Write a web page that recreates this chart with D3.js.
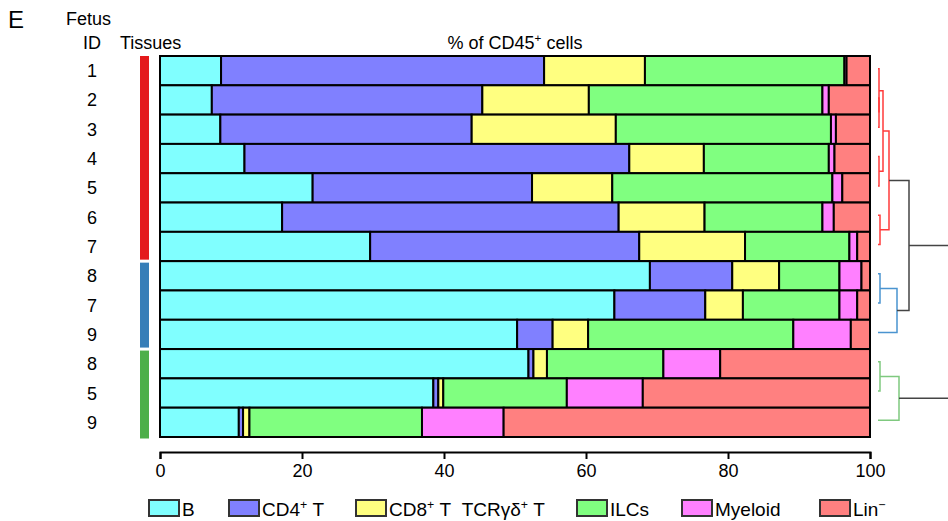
<!DOCTYPE html>
<html>
<head>
<meta charset="utf-8">
<script src="https://cdn.jsdelivr.net/npm/d3@7"></script>
<style>
  body { margin: 0; background: #fff; }
  svg text { font-family: "Liberation Sans", Arial, sans-serif; fill: #000; }
</style>
</head>
<body>
<svg id="chart" width="948" height="521"></svg>
<script>
// fetus ID for each row, top to bottom
var ids = ['1', '2', '3', '4', '5', '6', '7', '8', '7', '9', '8', '5', '9'];
// tissue group for each row (0 = red, 1 = blue, 2 = green)
var tissueGroup = [0, 0, 0, 0, 0, 0, 0, 1, 1, 1, 2, 2, 2];
var tissueColors = ['#e41a1c', '#377eb8', '#4daf4a'];

var categories = ['B', 'CD4+ T', 'CD8+ T  TCRgd+ T', 'ILCs', 'Myeloid', 'Lin-'];
var catColors = ['#80ffff', '#8080ff', '#ffff80', '#80ff80', '#ff80ff', '#ff8080'];

// % of CD45+ cells, one value per row
var bCells    = [8.6, 7.3, 8.5, 11.9, 21.5, 17.2, 29.6, 69.0, 64.0, 50.3, 51.9, 38.5, 11.1];
var cd4T      = [45.5, 38.1, 35.4, 54.2, 30.9, 47.4, 37.9, 11.6, 12.8, 5.0, 0.7, 0.7, 0.6];
var cd8T      = [14.2, 15.0, 20.3, 10.5, 11.3, 12.1, 14.9, 6.6, 5.3, 5.0, 1.9, 0.7, 0.9];
var ilcs      = [28.1, 32.9, 30.3, 17.6, 31.0, 16.6, 14.7, 8.5, 13.6, 28.9, 16.4, 17.4, 24.3];
var myeloid   = [0.3, 0.9, 0.7, 0.8, 1.4, 1.6, 1.1, 3.1, 2.5, 8.1, 8.0, 10.7, 11.5];
var linNeg    = [3.3, 5.8, 4.8, 5.0, 3.9, 5.1, 1.8, 1.2, 1.8, 2.7, 21.1, 32.0, 51.6];

var xTicks = [0, 20, 40, 60, 80, 100];

// dendrogram merges: [childA, childB, height]; leaves are 0..12, new nodes 13..
var merges = [
  [1, 2, 1], [0, 13, 1], [3, 4, 1], [14, 15, 5], [5, 6, 2], [16, 17, 11],
  [7, 8, 2], [19, 9, 19], [18, 20, 31],
  [10, 11, 2], [22, 12, 21], [21, 23, 120]
];
var mergeColors = ['#ff3b3b', '#ff3b3b', '#ff3b3b', '#ff3b3b', '#ff3b3b', '#ff3b3b',
  '#4a94d0', '#4a94d0', '#444',
  '#7fc97f', '#7fc97f', '#444'];

var svg = d3.select('#chart');
var rows = d3.range(ids.length);
var series = [bCells, cd4T, cd8T, ilcs, myeloid, linNeg];

var x = d3.scaleLinear().domain([0, 100]).range([160, 870]);
var y = d3.scaleBand().domain(rows).range([56, 437]).padding(0);

// stacked segments
var segs = [];
rows.forEach(function(r) {
  var acc = 0;
  series.forEach(function(s, k) {
    segs.push({ row: r, k: k, x0: acc, x1: acc + s[r] });
    acc += s[r];
  });
});

svg.append('g').selectAll('rect')
  .data(segs)
  .enter().append('rect')
    .attr('x', function(d) { return x(d.x0); })
    .attr('y', function(d) { return y(d.row); })
    .attr('width', function(d) { return Math.max(0, x(d.x1) - x(d.x0)); })
    .attr('height', y.bandwidth())
    .attr('fill', function(d) { return catColors[d.k]; })
    .attr('stroke', '#000')
    .attr('stroke-width', 2);

// ID labels
svg.append('g').selectAll('text')
  .data(rows)
  .enter().append('text')
    .attr('x', 92)
    .attr('y', function(r) { return y(r) + y.bandwidth() / 2 + 6.5; })
    .attr('text-anchor', 'middle')
    .attr('font-size', 18)
    .text(function(r) { return ids[r]; });

// tissue strips
var groups = d3.groups(rows, function(r) { return tissueGroup[r]; });
svg.append('g').selectAll('rect')
  .data(groups)
  .enter().append('rect')
    .attr('x', 140)
    .attr('width', 9)
    .attr('y', function(g) { return y(d3.min(g[1])) + (g[0] > 0 ? 1.5 : 0); })
    .attr('height', function(g) {
      return y(d3.max(g[1])) + y.bandwidth() - y(d3.min(g[1])) - (g[0] > 0 ? 1.5 : 0) - 1.5 + (g[0] == 2 ? 3 : 0);
    })
    .attr('fill', function(g) { return tissueColors[g[0]]; });

// axis
var axis = svg.append('g')
  .attr('transform', 'translate(0,452)')
  .call(d3.axisBottom(x).tickValues(xTicks).tickSize(7).tickSizeOuter(7).tickPadding(5));
axis.selectAll('path, line').attr('stroke', '#000').attr('stroke-width', 2);
axis.selectAll('text').attr('font-size', 18).attr('font-family', '"Liberation Sans", Arial, sans-serif');

// headers
svg.append('text').attr('x', 8).attr('y', 28).attr('font-size', 24).text('E');
svg.append('text').attr('x', 66).attr('y', 25).attr('font-size', 18).text('Fetus');
svg.append('text').attr('x', 83).attr('y', 49).attr('font-size', 18).text('ID');
svg.append('text').attr('x', 120).attr('y', 49).attr('font-size', 18).text('Tissues');

// parts: [text, dy]; negative dy = superscript, positive dy = back to baseline
function supText(sel, parts) {
  parts.forEach(function(p) {
    var t = sel.append('tspan').text(p[0]);
    if (p[1]) t.attr('dy', p[1]);
    if (p[1] < 0) t.attr('font-size', '0.65em');
  });
}
var title = svg.append('text').attr('x', 515).attr('y', 49).attr('font-size', 18).attr('text-anchor', 'middle');
supText(title, [['% of CD45'], ['+', -7], [' cells', 7]]);

// dendrogram
var hx = d3.scaleLinear().domain([0, 70]).range([878, 948]);
var nodeY = rows.map(function(r) { return y(r) + y.bandwidth() / 2 - 2; });
var nodeH = rows.map(function() { return 0; });
var dendro = svg.append('g').attr('fill', 'none').attr('stroke-width', 1.5);
merges.forEach(function(m, i) {
  var a = m[0], b = m[1], h = m[2];
  var xa = hx(nodeH[a]), xb = hx(nodeH[b]), xm = hx(h);
  dendro.append('path')
    .attr('d', 'M' + xa + ',' + nodeY[a] + 'H' + xm + 'V' + nodeY[b] + 'H' + xb)
    .attr('stroke', mergeColors[i]);
  nodeY.push((nodeY[a] + nodeY[b]) / 2);
  nodeH.push(h);
});

// legend
var legendX = [148, 228, 355, 576, 681, 819];
var legendParts = [
  [['B']],
  [['CD4'], ['+', -7], ['\u00a0T', 7]],
  [['CD8'], ['+', -7], ['\u00a0T\u00a0\u00a0TCR\u03b3\u03b4', 7], ['+', -7], ['\u00a0T', 7]],
  [['ILCs']],
  [['Myeloid']],
  [['Lin'], ['\u2212', -7]]
];
var legend = svg.append('g').selectAll('g')
  .data(categories)
  .enter().append('g')
    .attr('transform', function(d, i) { return 'translate(' + legendX[i] + ',500)'; });
legend.append('rect')
  .attr('x', 1).attr('y', 0)
  .attr('width', 30).attr('height', 16)
  .attr('fill', function(d, i) { return catColors[i]; })
  .attr('stroke', '#333')
  .attr('stroke-width', 2);
legend.each(function(d, i) {
  var t = d3.select(this).append('text').attr('x', 34).attr('y', 16).attr('font-size', 19);
  supText(t, legendParts[i]);
});
</script>
</body>
</html>
